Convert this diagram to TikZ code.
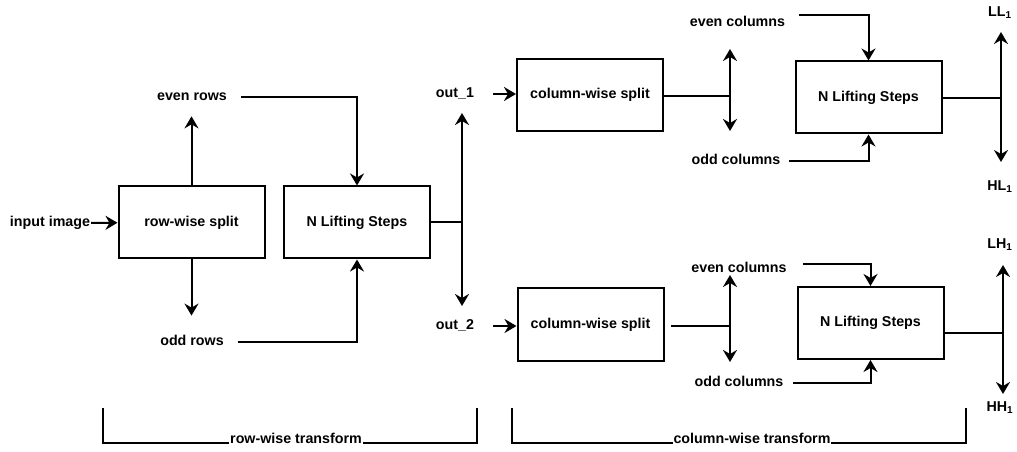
\documentclass[tikz,border=0pt]{standalone}
\usepackage{fontspec}
\setmainfont{Liberation Sans}
\usetikzlibrary{arrows.meta,positioning}

\begin{document}
\begin{tikzpicture}[x=0.75pt, y=-0.75pt,
    font=\fontsize{10.7}{12.8}\selectfont\bfseries,
    line width=1.5pt,
    box/.style={draw, minimum width=109.5pt, minimum height=54pt, inner sep=0pt},
    lbl/.style={inner sep=0pt, text height=0.75em, text depth=0.2em},
    >={Stealth[length=9pt, width=10.5pt, inset=3pt]}]
    \useasboundingbox (0,0) rectangle (1017,452);

    % Row-wise stage
    \node[box] (rsplit) at (191.5,222.5) {row-wise split};
    \node[box] (lift1) at (357,222.5) {N Lifting Steps};
    \node[lbl] (input) at (50,223) {input image};
    \node[lbl] (evenr) at (192,97) {even rows};
    \node[lbl] (oddr) at (192,342) {odd rows};
    \node[lbl] (out1) at (455,94) {out\_1};
    \node[lbl] (out2) at (455,326) {out\_2};

    % Column-wise stage
    \node[box] (csplit1) at (590,95) {column-wise split};
    \node[box] (lift2) at (868.5,97.5) {N Lifting Steps};
    \node[box] (csplit2) at (590.5,324.5) {column-wise split};
    \node[box] (lift3) at (870.5,323) {N Lifting Steps};
    \node[lbl] (evenc1) at (737.5,23) {even columns};
    \node[lbl] (oddc1) at (736,161) {odd columns};
    \node[lbl] (evenc2) at (739,269) {even columns};
    \node[lbl] (oddc2) at (739,383) {odd columns};
    \node[lbl] (ll) at (1000,13) {LL\textsubscript{1}};
    \node[lbl] (hl) at (1000,187) {HL\textsubscript{1}};
    \node[lbl] (lh) at (1000,245) {LH\textsubscript{1}};
    \node[lbl] (hh) at (1000,408) {HH\textsubscript{1}};

    % Split points, each with a double arrow
    \foreach \n/\x/\y/\a/\b in {j1/462/222.5/113/306, j2/730/96/49/131,
        j3/1001/98/32/162, j4/730/326/275/362, j5/1003/333/265/394} {
        \coordinate (\n) at (\x,\y);
        \coordinate (\n top) at (\x,\a);
        \coordinate (\n bot) at (\x,\b);
        \draw[<->] (\n top) -- (\n bot);
    }

    % Row-wise connectors
    \draw[->] (input) -- (rsplit);
    \draw[->, shorten >=9pt] (rsplit.north) -- (rsplit.north |- evenr.south);
    \draw[->, shorten >=14.3pt] (rsplit.south) -- (rsplit.south |- oddr.north);
    \draw[->, shorten <=9.75pt] (evenr.east) -| (lift1.north);
    \draw[->, shorten <=9.75pt] (oddr.east) -| (lift1.south);
    \draw (lift1.east) -- (j1);

    % Column-wise connectors
    \draw[->, shorten <=13.5pt] (out1.east) -- (out1.east -| csplit1.west);
    \draw[->, shorten <=13.5pt] (out2.east) -- (out2.east -| csplit2.west);
    \draw (csplit1.east |- j2) -- (j2);
    \draw[shorten <=5pt] (csplit2.east |- j4) -- (j4);
    \draw[->, shorten <=9.75pt] ([yshift=6pt]evenc1.east) -| (lift2.north);
    \draw[->, shorten <=5.6pt] (oddc1.east) -| (lift2.south);
    \draw[->, shorten <=11.6pt] ([yshift=3.75pt]evenc2.east) -| (lift3.north);
    \draw[->, shorten <=6.4pt] (oddc2.east) -| (lift3.south);
    \draw (lift2.east |- j3) -- (j3);
    \draw (lift3.east |- j5) -- (j5);

    % Brackets under the two stages
    \foreach \name/\l/\r/\xt/\txt in {rowtf/103/477/296/row-wise transform,
        coltf/512/966/752/column-wise transform} {
        \node[lbl, anchor=base] (\name) at (\xt,443) {\txt};
        \draw (\l,408) |- (\name.base west);
        \draw (\name.base east) -| (\r,408);
    }
\end{tikzpicture}
\end{document}
